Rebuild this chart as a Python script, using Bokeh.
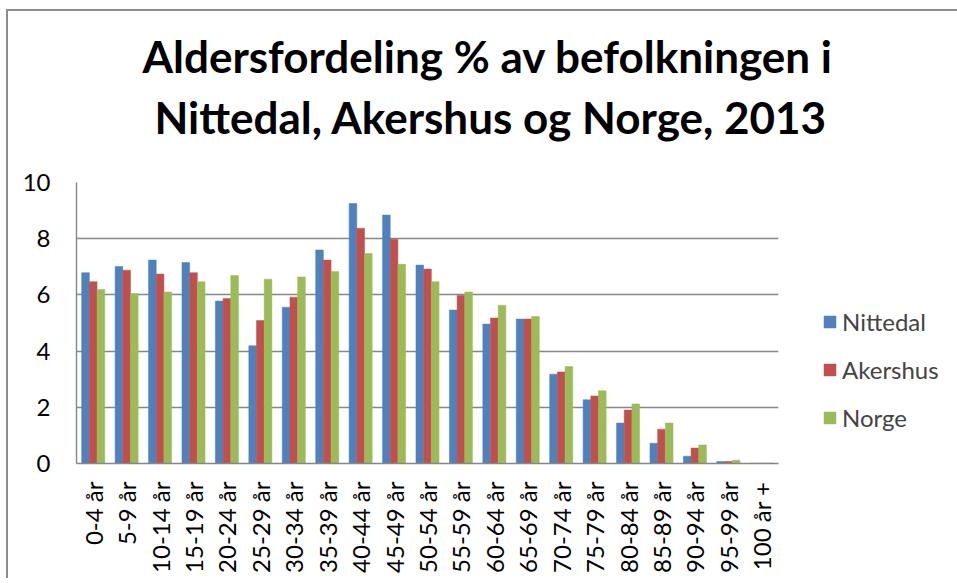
import math
from bokeh.plotting import figure
from bokeh.models import (Range1d, FactorRange, FixedTicker, Legend, LegendItem,
                          ColumnDataSource, Title)
from bokeh.transform import dodge
from bokeh.embed import file_html
from bokeh.resources import INLINE

# ---- data ----
categories = ["0-4 år", "5-9 år", "10-14 år", "15-19 år", "20-24 år", "25-29 år",
              "30-34 år", "35-39 år", "40-44 år", "45-49 år", "50-54 år", "55-59 år",
              "60-64 år", "65-69 år", "70-74 år", "75-79 år", "80-84 år", "85-89 år",
              "90-94 år", "95-99 år", "100 år +"]
nittedal = [6.79, 7.01, 7.24, 7.15, 5.78, 4.19, 5.56, 7.60, 9.25, 8.84, 7.06, 5.46,
            4.96, 5.14, 3.18, 2.27, 1.44, 0.72, 0.26, 0.07, 0.01]
akershus = [6.47, 6.88, 6.74, 6.79, 5.87, 5.09, 5.92, 7.24, 8.37, 7.98, 6.92, 5.98,
            5.18, 5.14, 3.26, 2.40, 1.90, 1.22, 0.55, 0.07, 0.01]
norge = [6.19, 6.05, 6.10, 6.47, 6.69, 6.56, 6.64, 6.83, 7.47, 7.09, 6.47, 6.10,
         5.63, 5.23, 3.45, 2.59, 2.12, 1.44, 0.66, 0.12, 0.02]
series_names = ["Nittedal", "Akershus", "Norge"]
colors = ["#4F81BD", "#C0504D", "#9BBB59"]
y_ticks = [0, 2, 4, 6, 8, 10]
title_line1 = "Aldersfordeling % av befolkningen i"
title_line2 = "Nittedal, Akershus og Norge, 2013"

src = ColumnDataSource(dict(cat=categories, Nittedal=nittedal,
                            Akershus=akershus, Norge=norge))

p = figure(frame_width=702, frame_height=281,
           x_range=FactorRange(*categories), y_range=Range1d(0, 10),
           output_backend="svg", toolbar_location=None, title=None,
           min_border_left=68, min_border_right=177,
           min_border_top=171, min_border_bottom=115)
p.margin = (9, 0, 0, 6)
p.styles = {"border-left": "2px solid #8c8c8c", "border-top": "2px solid #8c8c8c"}

for txt, off, so in ((title_line2, 78, 80), (title_line1, 66, -66)):
    t = Title(text=txt, align="left", offset=off, standoff=so,
              text_font="Lato", text_font_style="bold", text_font_size="44px",
              text_color="#000000")
    p.add_layout(t, "above")

bw = 0.23
renderers = []
for i, (name, col) in enumerate(zip(series_names, colors)):
    r = p.vbar(x=dodge("cat", (i - 1) * bw, range=p.x_range), top=name, width=bw,
               source=src, fill_color=col, line_color=col, line_width=0.5)
    renderers.append(r)

legend = Legend(items=[LegendItem(label=n, renderers=[r]) for n, r in zip(series_names, renderers)],
                location=(44, 31))
legend.border_line_color = None
legend.background_fill_alpha = 0
legend.label_text_font = "Lato"
legend.label_text_font_size = "24px"
legend.glyph_width = 15
legend.glyph_height = 15
legend.spacing = 19
legend.padding = 0
legend.margin = 0
legend.label_standoff = 5
p.add_layout(legend, "right")

p.outline_line_color = None
p.xgrid.grid_line_color = None
p.ygrid.grid_line_color = "#878787"
p.ygrid.grid_line_width = 1.4
p.yaxis.ticker = FixedTicker(ticks=y_ticks)
for ax in (p.xaxis[0], p.yaxis[0]):
    ax.axis_line_color = "#878787"
    ax.axis_line_width = 1.4
    ax.major_tick_line_color = None
    ax.minor_tick_line_color = None
    ax.major_label_text_font = "Lato"
    ax.major_label_text_font_size = "24px"
    ax.major_label_text_color = "#000000"
p.yaxis.major_label_standoff = 20
p.xaxis.major_label_orientation = math.pi / 2
p.xaxis.major_label_standoff = 12
p.x_range.range_padding = 0
p.x_range.group_padding = 0

open("out.html", "w").write(file_html(p, INLINE))
